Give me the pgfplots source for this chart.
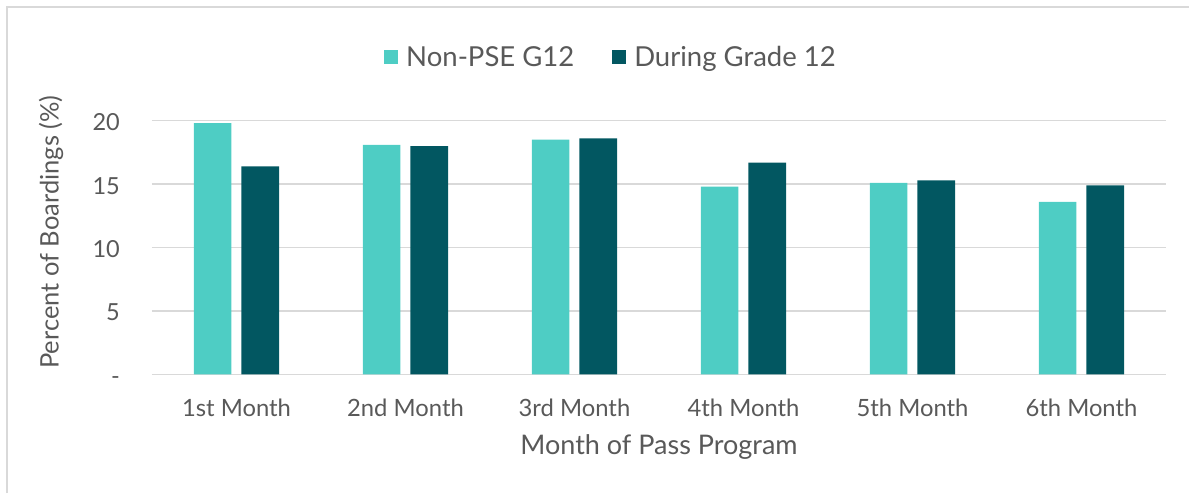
\documentclass[border=0pt]{standalone}
\usepackage{pgfplots}
\pgfplotsset{compat=1.18}
\usepackage{fontspec}
\setmainfont{Lato}
\definecolor{teallight}{HTML}{4ECDC4}
\definecolor{tealdark}{HTML}{025761}
\definecolor{gridgray}{HTML}{D9D9D9}
\definecolor{textgray}{HTML}{595959}
\begin{document}
\begin{tikzpicture}[x=1pt,y=1pt]
\path[use as bounding box] (0,0) rectangle (1189,-493);
\draw[gridgray, line width=1.5pt] (7,-493) -- (7,-7) -- (1189,-7);
\begin{axis}[
  at={(152pt,-374.3pt)}, anchor=south west,
  scale only axis, width=1014pt, height=253.6pt,
  xmin=-0.5, xmax=5.5, ymin=0, ymax=20,
  ybar=10pt, bar width=37.7pt,
  xtick={0,1,2,3,4,5},
  xticklabels={1st Month,2nd Month,3rd Month,4th Month,5th Month,6th Month},
  ytick={0,5,10,15,20},
  yticklabels={-,5,10,15,20},
  /pgf/number format/assume math mode=true,
  axis line style={draw=none},
  tick style={draw=none},
  ymajorgrids, grid style={gridgray, line width=1.5pt},
  xticklabel style={font=\fontsize{23.8}{28}\selectfont, text=textgray, anchor=base, inner sep=0pt, yshift=-38pt},
  yticklabel style={font=\fontsize{23.5}{28}\selectfont, text=textgray, anchor=base east, inner sep=0pt, xshift=-32pt, yshift=-10pt},
  xlabel={Month of Pass Program},
  ylabel={Percent of Boardings (\%)},
  xlabel style={font=\fontsize{27}{32}\selectfont, text=textgray, at={(axis description cs:0.5,-0.2867)}, anchor=center},
  ylabel style={font=\fontsize{25.5}{30}\selectfont, text=textgray, at={(axis description cs:-0.0996,0.561)}, anchor=center},
  legend columns=2,
  legend style={at={(axis description cs:0.4517,1.251)}, anchor=center, draw=none, fill=none,
    font=\fontsize{27.5}{32}\selectfont, text=textgray, inner sep=0pt,
    nodes={inner sep=0pt},
    /tikz/every odd column/.append style={column sep=8pt},
    /tikz/every even column/.append style={column sep=38pt}},
  legend image code/.code={\fill[#1] (0pt,-7pt) rectangle (14pt,7pt);},
]
\addplot[fill=teallight, draw=none] coordinates {(0,19.8) (1,18.1) (2,18.5) (3,14.8) (4,15.1) (5,13.6)};
\addplot[fill=tealdark, draw=none] coordinates {(0,16.4) (1,18.0) (2,18.6) (3,16.7) (4,15.3) (5,14.9)};
\legend{Non-PSE G12, During Grade 12}
\end{axis}
\end{tikzpicture}
\end{document}
